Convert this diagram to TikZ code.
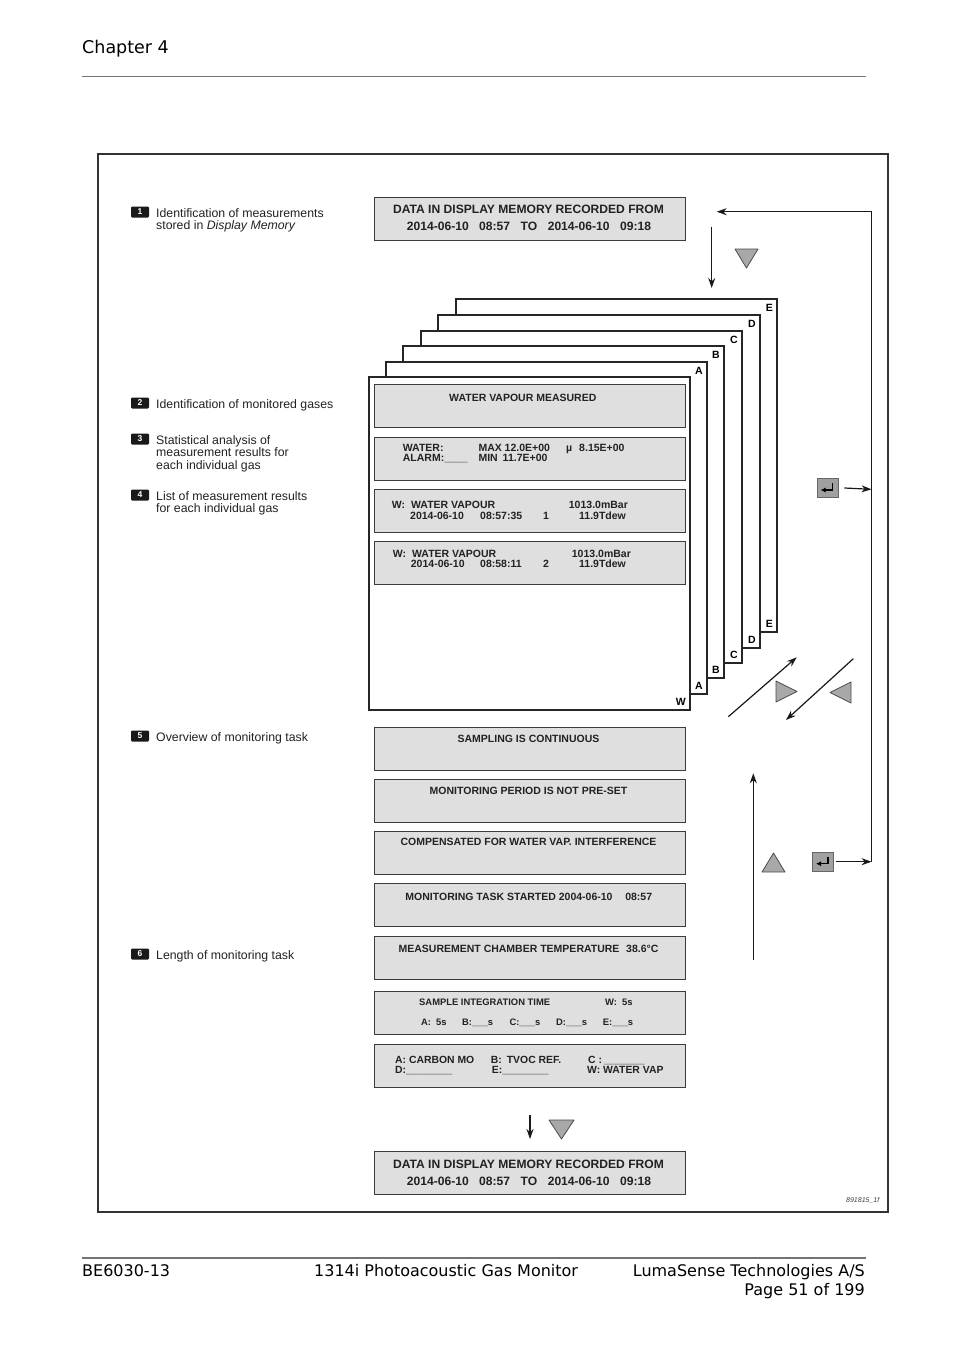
\documentclass[tikz,border=0pt]{standalone}
\usepackage{fontspec}
\setmainfont{Liberation Sans}
\newfontfamily\verd{DejaVu Sans}
\usetikzlibrary{arrows.meta}
\definecolor{boxfill}{HTML}{DFDFDF}
\definecolor{boxline}{HTML}{3C3C3C}
\definecolor{trifill}{HTML}{A8A8A8}
\definecolor{entfill}{HTML}{A0A0A0}
\definecolor{txt}{HTML}{222222}
\newcommand{\fsz}[1]{\fontsize{#1pt}{#1pt}\selectfont}
\begin{document}
\begin{tikzpicture}[x=1pt,y=-1pt,
  scr/.style={draw=boxline, fill=boxfill, line width=1.4pt, minimum width=311pt, minimum height=43pt, anchor=north west, inner sep=0pt},
  pg/.style={draw=black!85, fill=white, line width=1.4pt},
  lbl/.style={anchor=base west, inner sep=0pt, font=\fsz{12.3}, text=txt},
  badge/.style={fill=black!90, rounded corners=1.2pt, minimum width=18pt, minimum height=11pt, inner sep=0pt, text=white, font=\fsz{8.5}\bfseries},
  bt/.style={anchor=base west, inner sep=0pt, font=\fsz{10.5}\bfseries, text=txt},
  bc/.style={anchor=base, inner sep=0pt, font=\fsz{10.5}\bfseries, text=txt},
  big/.style={anchor=base, inner sep=0pt, font=\fsz{12.1}\bfseries, text=txt},
  sm/.style={anchor=base west, inner sep=0pt, font=\fsz{9.4}\bfseries, text=txt},
  lb/.style={anchor=base west, inner sep=0pt, font=\fsz{10.4}\bfseries, text=txt},
  pl/.style={anchor=base east, inner sep=0pt, font=\fsz{10.5}\bfseries, text=black},
  arr/.style={line width=1.2pt, draw=black!90, -{Stealth[length=10pt,width=7pt]}},
  tri/.style={fill=trifill, draw=black!70, line width=0.8pt, line join=round},
  ent/.style={fill=entfill, draw=black!60, line width=0.8pt, minimum width=21pt, minimum height=19pt, inner sep=0pt},
  entsym/.style={line width=1.1pt, draw=black, -{Latex[length=5pt,width=5pt]}},
  hd/.style={inner sep=0pt, font=\verd\fsz{17.5}, text=black},
  ft/.style={inner sep=0pt, font=\verd\fsz{16}, text=black},
]
\fill[white] (0,0) rectangle (954,1350);
\useasboundingbox (0,0) rectangle (954,1350);

% header and footer
\node[hd, anchor=base west] (chap) at (82,53) {Chapter 4};
\draw[black!55, line width=1.2pt] (82,76.5) -- (866,76.5);
\draw[black!55, line width=1.2pt] (82,1258) -- (866,1258);
\node[ft, anchor=base west] (f1) at (82,1276) {BE6030-13};
\node[ft, anchor=base west] (f2) at (314,1276) {1314i Photoacoustic Gas Monitor};
\node[ft, anchor=base east] (f3) at (865,1276) {LumaSense Technologies A/S};
\node[ft, anchor=base east] (f4) at (865,1295) {Page 51 of 199};

% frame
\draw[black!80, line width=1.8pt] (98,154) rectangle (888,1212);

% left labels
\node[badge] (b1) at (140,212) {1};
\node[lbl] (l1a) at (156,217) {Identification of measurements};
\node[lbl] (l1b) at (156,229.5) {stored in \textit{Display Memory}};
\node[badge] (b2) at (140,403) {2};
\node[lbl] (l2) at (156,408) {Identification of monitored gases};
\node[badge] (b3) at (140,439) {3};
\node[lbl] (l3a) at (156,444) {Statistical analysis of};
\node[lbl] (l3b) at (156,456.5) {measurement results for};
\node[lbl] (l3c) at (156,469) {each individual gas};
\node[badge] (b4) at (140,495) {4};
\node[lbl] (l4a) at (156,500) {List of measurement results};
\node[lbl] (l4b) at (156,512.5) {for each individual gas};
\node[badge] (b5) at (140,736) {5};
\node[lbl] (l5) at (156,741) {Overview of monitoring task};
\node[badge] (b6) at (140,954) {6};
\node[lbl] (l6) at (156,959) {Length of monitoring task};

% top screen
\node[scr] (top) at (374,197) {};
\node[big] (top1) at (528.5,213.3) {DATA IN DISPLAY MEMORY RECORDED FROM};
\node[big] (top2) at (529,230.7) {2014-06-10\hspace{10.5pt}08:57\hspace{10.5pt}TO\hspace{10.5pt}2014-06-10\hspace{10.5pt}09:18};

% stacked pages
\draw[pg] (456,299) rectangle (777,632);
\node[pl] (e1) at (773,311) {E};
\node[pl] (e2) at (773,627) {E};
\draw[pg] (438,315) rectangle (760,648);
\node[pl] (d1) at (756,327) {D};
\node[pl] (d2) at (756,643) {D};
\draw[pg] (421,331) rectangle (742,663);
\node[pl] (c1) at (738,343) {C};
\node[pl] (c2) at (738,658) {C};
\draw[pg] (403,346) rectangle (724,678);
\node[pl] (bb1) at (720,358) {B};
\node[pl] (bb2) at (720,673) {B};
\draw[pg] (386,362) rectangle (707,694);
\node[pl] (a1) at (703,374) {A};
\node[pl] (a2) at (703,689) {A};
\draw[pg] (369,377) rectangle (690,710);
\node[pl] (w2) at (686,705) {W};

% front page screens
\node[scr] (s1) at (374,384) {};
\node[bt] (s1t) at (449,401) {WATER VAPOUR MEASURED};
\node[scr] (s2) at (374,437) {};
\node[bt] (s2a) at (402.7,451) {WATER:};
\node[bt] (s2b) at (478.3,451) {MAX 12.0E+00};
\node[bt] (s2c) at (566,451) {µ\hspace{7pt}8.15E+00};
\node[bt] (s2d) at (402.7,461.7) {ALARM:\_\_\_\_};
\node[bt] (s2e) at (478.3,461.7) {MIN\hspace{5pt}11.7E+00};
\node[scr] (s3) at (374,488.5) {};
\node[bt] (s3a) at (391.7,508) {W:\hspace{6pt}WATER VAPOUR};
\node[bt] (s3b) at (568.7,508) {1013.0mBar};
\node[bt] (s3c) at (410,519) {2014-06-10};
\node[bt] (s3d) at (480,519) {08:57:35};
\node[bt] (s3e) at (543,519) {1};
\node[bt] (s3f) at (579,519) {11.9Tdew};
\node[scr] (s4) at (374,541) {};
\node[bt] (s4a) at (392.7,557) {W:\hspace{6pt}WATER VAPOUR};
\node[bt] (s4b) at (571.7,557) {1013.0mBar};
\node[bt] (s4c) at (410.7,567.5) {2014-06-10};
\node[bt] (s4d) at (480,567.5) {08:58:11};
\node[bt] (s4e) at (543,567.5) {2};
\node[bt] (s4f) at (579,567.5) {11.9Tdew};

% lower screens
\node[scr] (m1) at (374,727) {};
\node[bc] (m1t) at (528.5,742.7) {SAMPLING IS CONTINUOUS};
\node[scr] (m2) at (374,779) {};
\node[bc] (m2t) at (528.5,794) {MONITORING PERIOD IS NOT PRE-SET};
\node[scr] (m3) at (374,831) {};
\node[bc] (m3t) at (528.5,845.7) {COMPENSATED FOR WATER VAP. INTERFERENCE};
\node[scr] (m4) at (374,883) {};
\node[bc] (m4t) at (528.8,900) {MONITORING TASK STARTED 2004-06-10\hspace{12.7pt}08:57};
\node[scr] (m5) at (374,936) {};
\node[bc] (m5t) at (528.5,952.7) {MEASUREMENT CHAMBER TEMPERATURE\hspace{6.7pt}38.6°C};
\node[scr] (m6) at (374,990.5) {};
\node[sm] (m6a) at (419,1005) {SAMPLE INTEGRATION TIME};
\node[sm] (m6b) at (605,1005) {W:\hspace{5pt}5s};
\node[sm] (m6c) at (421,1025) {A:\hspace{5pt}5s};
\node[sm] (m6d) at (462,1025) {B:\_\_\_s};
\node[sm] (m6e) at (509.3,1025) {C:\_\_\_s};
\node[sm] (m6f) at (556,1025) {D:\_\_\_s};
\node[sm] (m6g) at (602.7,1025) {E:\_\_\_s};
\node[scr] (m7) at (374,1044) {};
\node[lb] (m7a) at (395,1063) {A: CARBON MO};
\node[lb] (m7b) at (490.7,1063) {B:\hspace{5pt}TVOC REF.};
\node[lb] (m7c) at (588,1063) {C :\hspace{2pt}\_\_\_\_\_\_\_};
\node[lb] (m7d) at (395,1073.5) {D:\_\_\_\_\_\_\_\_};
\node[lb] (m7e) at (491.7,1073.5) {E:\_\_\_\_\_\_\_\_};
\node[lb] (m7f) at (587,1073.5) {W: WATER VAP};

% bottom screen
\node[scr] (bot) at (374,1151) {};
\node[big] (bot1) at (528.5,1168.3) {DATA IN DISPLAY MEMORY RECORDED FROM};
\node[big] (bot2) at (529,1185.3) {2014-06-10\hspace{10.5pt}08:57\hspace{10.5pt}TO\hspace{10.5pt}2014-06-10\hspace{10.5pt}09:18};
\node[anchor=base west, inner sep=0pt, font=\fsz{7}\itshape, text=black!75] (code) at (846,1202) {891815\_1f};

% triangles
\draw[tri] (735,249) -- (758,249) -- (746.5,268) -- cycle;
\draw[tri] (776,681) -- (776,702) -- (797,691.5) -- cycle;
\draw[tri] (851,682) -- (851,703) -- (830,692.5) -- cycle;
\draw[tri] (762,872) -- (785,872) -- (773.5,853) -- cycle;
\draw[tri] (549,1120) -- (574,1120) -- (561.5,1139) -- cycle;

% enter keys
\node[ent] (ent1) at (827.5,488) {};
\draw[entsym] ([shift={(5,-5)}]ent1.center) -- ([shift={(5,2)}]ent1.center) -- ([shift={(-7,2)}]ent1.center);
\node[ent] (ent2) at (823,861.7) {};
\draw[entsym] ([shift={(5,-5)}]ent2.center) -- ([shift={(5,2)}]ent2.center) -- ([shift={(-7,2)}]ent2.center);

% connectors
\coordinate (dA) at (711.7,226.7);
\coordinate (dB) at (711.7,288);
\coordinate (rUp) at (871.5,489.3);
\coordinate (rLo) at (871.5,861.7);
\coordinate (rTop) at (871.5,211.7);
\coordinate (lTip) at (716.7,211.7);
\coordinate (g1s) at (728.3,716.7);
\coordinate (g1e) at (796.7,657.3);
\coordinate (g2s) at (853.3,658.7);
\coordinate (g2e) at (786,720);
\coordinate (uS) at (753.3,960);
\coordinate (uE) at (753.3,773.3);
\coordinate (bS) at (530,1115);
\coordinate (bE) at (530,1139);

\draw[arr] (dA) -- (dB);
\draw[arr] ([xshift=6pt]ent1.east) -- (rUp);
\draw[arr] ([xshift=2pt]ent2.east) -- (rLo);
\draw[arr] (rLo) -- (rTop) -- (lTip);
\draw[arr] (g1s) -- (g1e);
\draw[arr] (g2s) -- (g2e);
\draw[arr] (uS) -- (uE);
\draw[arr] (bS) -- (bE);
\end{tikzpicture}
\end{document}
